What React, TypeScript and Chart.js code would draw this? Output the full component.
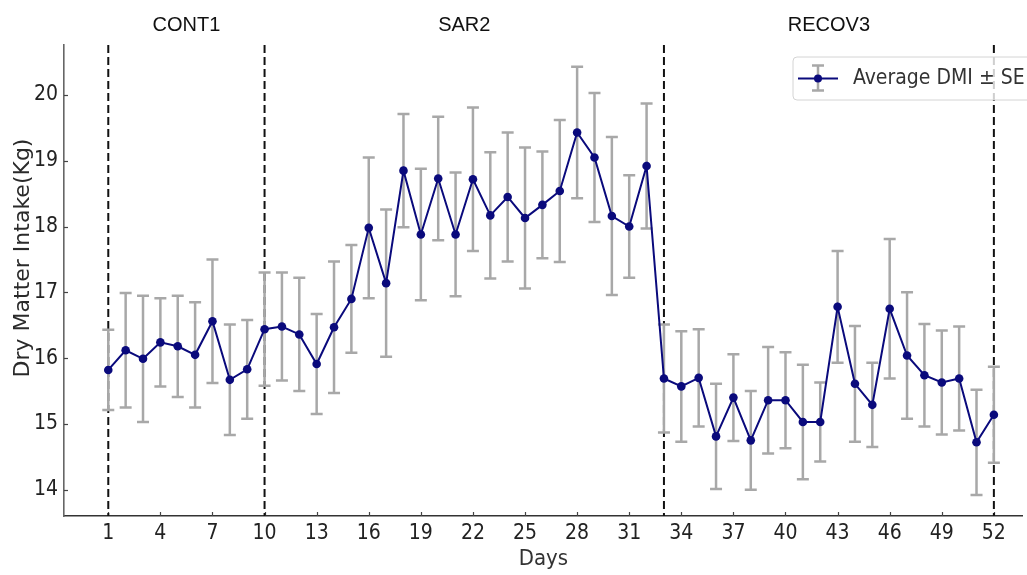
import React, { useEffect, useRef } from "react";
import { Chart, registerables } from "chart.js";

Chart.register(...registerables);

// Daily dry matter intake (kg), mean and standard error per day
const DAYS = Array.from({ length: 52 }, (_, i) => i + 1);
const DMI_MEAN = [
  15.82, 16.12, 15.99, 16.24, 16.18, 16.05, 16.56, 15.67, 15.83, 16.44,
  16.48, 16.36, 15.91, 16.47, 16.9, 17.98, 17.14, 18.85, 17.88, 18.73,
  17.88, 18.72, 18.17, 18.45, 18.13, 18.33, 18.54, 19.43, 19.05, 18.16,
  18.0, 18.92, 15.69, 15.57, 15.7, 14.81, 15.4, 14.75, 15.36, 15.36,
  15.03, 15.03, 16.78, 15.61, 15.29, 16.75, 16.04, 15.74, 15.63, 15.69,
  14.72, 15.14,
];
const DMI_SE = [
  0.61, 0.87, 0.96, 0.67, 0.77, 0.8, 0.94, 0.84, 0.75, 0.86,
  0.82, 0.86, 0.76, 1.0, 0.82, 1.07, 1.12, 0.86, 1.0, 0.94,
  0.94, 1.09, 0.96, 0.98, 1.07, 0.81, 1.08, 1.0, 0.98, 1.2,
  0.78, 0.95, 0.82, 0.84, 0.74, 0.8, 0.66, 0.75, 0.81, 0.73,
  0.87, 0.6, 0.85, 0.88, 0.64, 1.06, 0.96, 0.78, 0.79, 0.79,
  0.8, 0.73,
];

// Phase boundaries (days) and phase names
const PHASE_BOUNDS = [1, 10, 33, 52];
const PHASE_NAMES = ["CONT1", "SAR2", "RECOV3"];

// Axis ticks
const X_TICKS = [1, 4, 7, 10, 13, 16, 19, 22, 25, 28, 31, 34, 37, 40, 43, 46, 49, 52];
const Y_TICKS = [14, 15, 16, 17, 18, 19, 20];

const SERIES_LABEL = "Average DMI ± SE";
const X_TITLE = "Days";
const Y_TITLE = "Dry Matter Intake(Kg)";

const LINE_COLOR = "#0a0a7c";
const ERR_COLOR = "#a8a8a8";
const TICK_FONT = "'DejaVu Sans Condensed', 'DejaVu Sans', sans-serif";

const decorPlugin = {
  id: "dmiDecor",
  beforeDatasetsDraw(chart: any) {
    const { ctx, chartArea, scales } = chart;
    const x = scales.x;
    const y = scales.y;
    ctx.save();

    // inward tick marks
    ctx.strokeStyle = "#444";
    ctx.lineWidth = 1.2;
    X_TICKS.forEach((v) => {
      const px = Math.round(x.getPixelForValue(v)) + 0.5;
      ctx.beginPath();
      ctx.moveTo(px, chartArea.bottom);
      ctx.lineTo(px, chartArea.bottom - 4);
      ctx.stroke();
    });
    Y_TICKS.forEach((v) => {
      const py = Math.round(y.getPixelForValue(v)) + 0.5;
      ctx.beginPath();
      ctx.moveTo(chartArea.left, py);
      ctx.lineTo(chartArea.left + 4, py);
      ctx.stroke();
    });

    // phase boundaries
    ctx.strokeStyle = "#111";
    ctx.lineWidth = 2;
    ctx.setLineDash([8, 4]);
    PHASE_BOUNDS.forEach((d) => {
      const px = x.getPixelForValue(d);
      ctx.beginPath();
      ctx.moveTo(px, chartArea.top);
      ctx.lineTo(px, chartArea.bottom);
      ctx.stroke();
    });
    ctx.setLineDash([]);

    // error bars
    ctx.strokeStyle = ERR_COLOR;
    ctx.lineWidth = 2.5;
    DAYS.forEach((d, i) => {
      const px = x.getPixelForValue(d);
      const top = y.getPixelForValue(DMI_MEAN[i] + DMI_SE[i]);
      const bot = y.getPixelForValue(DMI_MEAN[i] - DMI_SE[i]);
      ctx.beginPath();
      ctx.moveTo(px, top);
      ctx.lineTo(px, bot);
      ctx.moveTo(px - 6, top);
      ctx.lineTo(px + 6, top);
      ctx.moveTo(px - 6, bot);
      ctx.lineTo(px + 6, bot);
      ctx.stroke();
    });

    // phase names
    ctx.fillStyle = "#111";
    ctx.font = "20px 'Liberation Sans', Arial, sans-serif";
    ctx.textAlign = "center";
    ctx.textBaseline = "alphabetic";
    PHASE_NAMES.forEach((name, i) => {
      const mid = (PHASE_BOUNDS[i] + PHASE_BOUNDS[i + 1]) / 2;
      ctx.fillText(name, x.getPixelForValue(mid), 31);
    });

    // y axis title
    ctx.save();
    ctx.translate(23, 258);
    ctx.rotate(-Math.PI / 2);
    ctx.fillStyle = "#2a2a2a";
    ctx.font = "22px 'DejaVu Sans', sans-serif";
    ctx.textAlign = "center";
    ctx.textBaseline = "middle";
    ctx.fillText(Y_TITLE, 0, 0);
    ctx.restore();

    ctx.restore();
  },
  afterDraw(chart: any) {
    const { ctx } = chart;
    ctx.save();
    // legend box
    const bx = 793, by = 57, bw = 260, bh = 43, r = 4;
    ctx.beginPath();
    ctx.moveTo(bx + r, by);
    ctx.lineTo(bx + bw - r, by);
    ctx.arcTo(bx + bw, by, bx + bw, by + r, r);
    ctx.lineTo(bx + bw, by + bh - r);
    ctx.arcTo(bx + bw, by + bh, bx + bw - r, by + bh, r);
    ctx.lineTo(bx + r, by + bh);
    ctx.arcTo(bx, by + bh, bx, by + bh - r, r);
    ctx.lineTo(bx, by + r);
    ctx.arcTo(bx, by, bx + r, by, r);
    ctx.closePath();
    ctx.fillStyle = "rgba(255,255,255,0.8)";
    ctx.fill();
    ctx.strokeStyle = "#d4d4d4";
    ctx.lineWidth = 1;
    ctx.stroke();

    // legend symbol
    const cy = 78.5, cx = 818;
    ctx.strokeStyle = ERR_COLOR;
    ctx.lineWidth = 2.5;
    ctx.beginPath();
    ctx.moveTo(cx, cy - 13);
    ctx.lineTo(cx, cy + 12);
    ctx.moveTo(cx - 6, cy - 13);
    ctx.lineTo(cx + 6, cy - 13);
    ctx.moveTo(cx - 6, cy + 12);
    ctx.lineTo(cx + 6, cy + 12);
    ctx.stroke();
    ctx.strokeStyle = LINE_COLOR;
    ctx.lineWidth = 2;
    ctx.beginPath();
    ctx.moveTo(798, cy);
    ctx.lineTo(838, cy);
    ctx.stroke();
    ctx.fillStyle = LINE_COLOR;
    ctx.beginPath();
    ctx.arc(cx, cy, 4, 0, Math.PI * 2);
    ctx.fill();

    ctx.fillStyle = "#333";
    ctx.font = "21px " + TICK_FONT;
    ctx.textAlign = "left";
    ctx.textBaseline = "middle";
    ctx.fillText(SERIES_LABEL, 853, cy);
    ctx.restore();
  },
};

export default function App() {
  const canvasRef = useRef<HTMLCanvasElement | null>(null);

  useEffect(() => {
    const canvas = canvasRef.current;
    if (!canvas) return;
    const chart = new Chart(canvas, {
      type: "line",
      data: {
        datasets: [
          {
            label: SERIES_LABEL,
            data: DAYS.map((d, i) => ({ x: d, y: DMI_MEAN[i] })),
            borderColor: LINE_COLOR,
            backgroundColor: LINE_COLOR,
            borderWidth: 2,
            pointRadius: 4.3,
            pointBackgroundColor: LINE_COLOR,
            pointBorderWidth: 0,
            tension: 0,
          },
        ],
      },
      options: {
        animation: false,
        responsive: true,
        maintainAspectRatio: false,
        layout: { padding: { top: 45, left: 0, right: 0, bottom: 0 } },
        plugins: {
          legend: { display: false },
          tooltip: { enabled: false },
        },
        scales: {
          x: {
            type: "linear",
            min: -1.55,
            max: 53.66,
            grid: { display: false, drawTicks: false },
            border: { display: true, color: "#333", width: 1.6 },
            afterBuildTicks: (scale: any) => {
              scale.ticks = X_TICKS.map((v) => ({ value: v }));
            },
            afterFit: (scale: any) => {
              scale.height = 59;
            },
            ticks: {
              autoSkip: false,
              maxRotation: 0,
              padding: 5,
              color: "#222",
              font: { family: TICK_FONT, size: 21 },
              callback: (v: any) => String(v),
            },
            title: {
              display: true,
              text: X_TITLE,
              color: "#333",
              font: { family: TICK_FONT, size: 22 },
              padding: { top: 0, bottom: 3 },
            },
          },
          y: {
            type: "linear",
            min: 13.6,
            max: 20.76,
            grid: { display: false, drawTicks: false },
            border: { display: true, color: "#666", width: 1.6 },
            afterBuildTicks: (scale: any) => {
              scale.ticks = Y_TICKS.map((v) => ({ value: v }));
            },
            afterFit: (scale: any) => {
              scale.width = 64;
            },
            ticks: {
              padding: 6,
              color: "#222",
              font: { family: TICK_FONT, size: 21 },
              callback: (v: any) => String(v),
            },
          },
        },
      },
      plugins: [decorPlugin],
    });
    return () => chart.destroy();
  }, []);

  return (
    <div
      style={{
        position: "fixed",
        left: 0,
        top: 0,
        width: 1027,
        height: 575,
        background: "#fff",
      }}
    >
      <canvas ref={canvasRef} />
    </div>
  );
}
